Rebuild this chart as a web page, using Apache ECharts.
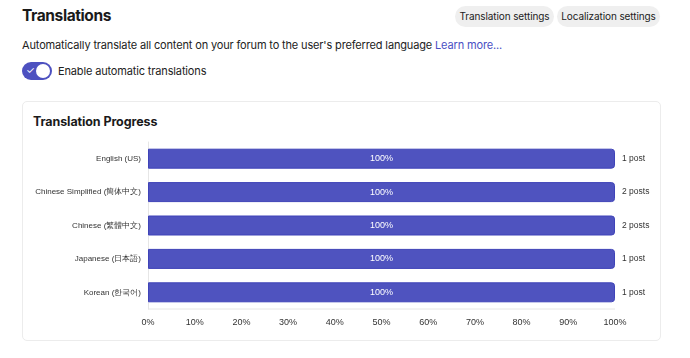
<!DOCTYPE html>
<html>
<head>
<meta charset="utf-8">
<script src="https://cdn.jsdelivr.net/npm/echarts@6/dist/echarts.min.js"></script>
<style>
  html, body { margin: 0; padding: 0; background: #fff; width: 690px; height: 358px; overflow: hidden; }
  body { font-family: Inter, "Noto Sans", sans-serif; color: #222; position: relative; }
  .h1 { position: absolute; left: 22px; top: 6px; font-size: 15.5px; font-weight: 700; color: #1a1a1a; letter-spacing: -0.4px; }
  .btn { position: absolute; top: 6px; height: 21px; line-height: 21px; background: #efefef; border-radius: 11px;
         font-size: 10px; color: #222; text-align: center; white-space: nowrap; letter-spacing: -0.1px; }
  .desc { position: absolute; left: 22px; top: 38px; font-size: 11px; color: #222; letter-spacing: -0.15px; white-space: nowrap; }
  .desc a { color: #4a4fc4; text-decoration: none; }
  .toggle { position: absolute; left: 22px; top: 62px; width: 30px; height: 18px; background: #4d51c0; border-radius: 9px; }
  .toggle .knob { position: absolute; right: 2px; top: 2px; width: 14px; height: 14px; background: #fff; border-radius: 7px; }
  .toggle .chk { position: absolute; left: 4px; top: 2px; color: #fff; font-size: 10px; }
  .tlabel { position: absolute; left: 58px; top: 64px; font-size: 11px; color: #222; letter-spacing: -0.15px; }
  .card { position: absolute; left: 22px; top: 101px; width: 637px; height: 238px; border: 1px solid #ececec; border-radius: 5px; }
  .card .title { position: absolute; left: 10px; top: 12px; font-size: 12.5px; font-weight: 700; color: #1a1a1a; letter-spacing: -0.1px; }
  #chart { position: absolute; left: 0; top: 130px; width: 690px; height: 210px; }
</style>
</head>
<body>
<div class="h1">Translations</div>
<div class="btn" style="left:455px;width:99px;">Translation settings</div>
<div class="btn" style="left:557px;width:103px;">Localization settings</div>
<div class="desc">Automatically translate all content on your forum to the user's preferred language <a>Learn more...</a></div>
<div class="toggle"><span class="chk">&#10003;</span><div class="knob"></div></div>
<div class="tlabel">Enable automatic translations</div>
<div class="card"><div class="title">Translation Progress</div></div>
<div id="chart"></div>
<script>
var languages = ['English (US)', 'Chinese Simplified (簡体中文)', 'Chinese (繁體中文)', 'Japanese (日本語)', 'Korean (한국어)'];
var progress = [100, 100, 100, 100, 100];
var posts = ['1 post', '2 posts', '2 posts', '1 post', '1 post'];
var xTicks = ['0%', '10%', '20%', '30%', '40%', '50%', '60%', '70%', '80%', '90%', '100%'];

var chart = echarts.init(document.getElementById('chart'));
var labelFont = 'Liberation Sans, Arial, sans-serif';

var option = {
    animation: false,
    grid: { left: 148, right: 75, top: 12, bottom: 31 },
    xAxis: {
        type: 'value',
        min: 0,
        max: 100,
        interval: 10,
        splitLine: { show: false },
        axisLine: { show: false },
        axisTick: { show: false },
        axisLabel: {
            color: '#333', fontSize: 9, fontFamily: labelFont, margin: 9,
            formatter: function (v) { return xTicks[v / 10]; }
        }
    },
    yAxis: [{
        type: 'category',
        inverse: true,
        data: languages,
        axisLine: { show: true, lineStyle: { color: '#e6e6e6' } },
        axisTick: { show: false },
        axisLabel: { color: '#333', fontSize: 8, fontFamily: labelFont, margin: 7 }
    }, {
        type: 'category',
        inverse: true,
        position: 'right',
        data: posts,
        axisLine: { show: false },
        axisTick: { show: false },
        axisLabel: { color: '#333', fontSize: 8.5, fontFamily: labelFont, margin: 7, align: 'left' }
    }],
    series: [{
        type: 'bar',
        data: progress,
        barWidth: 20,
        itemStyle: { color: '#4f53bf', borderColor: '#3f43b8', borderWidth: 1, borderRadius: [0, 3, 3, 0] },
        label: {
            show: true, position: 'inside', color: '#fff', fontSize: 9, fontFamily: labelFont,
            formatter: '{c}%'
        }
    }],
    graphic: [{
        type: 'line',
        shape: { x1: 148, y1: 179, x2: 615, y2: 179 },
        style: { stroke: '#e6e6e6', lineWidth: 1 }
    }]
};
chart.setOption(option);
</script>
</body>
</html>
